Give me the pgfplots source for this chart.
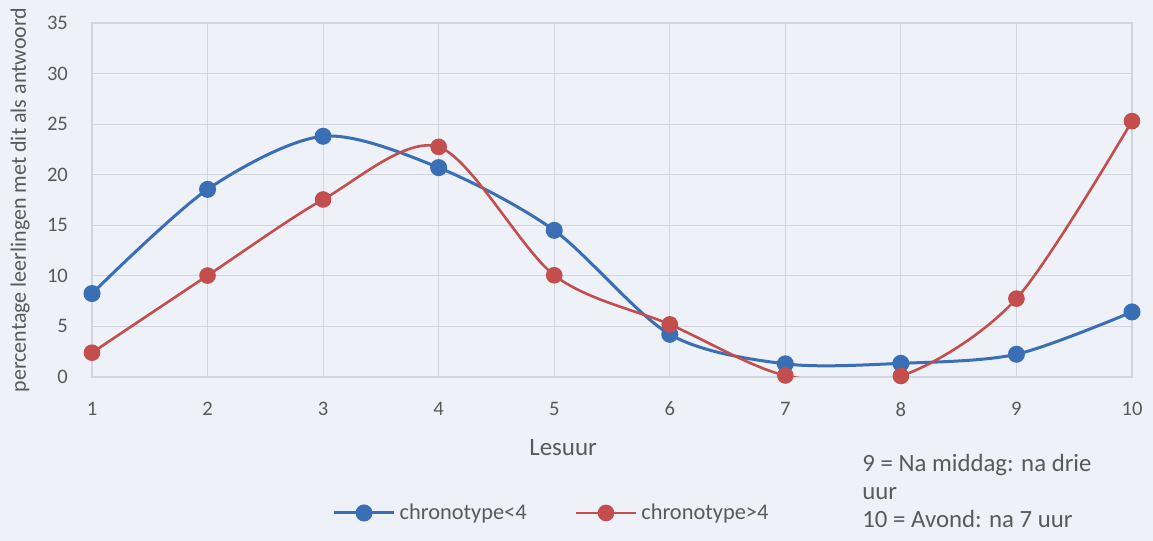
\documentclass[border=0pt]{standalone}
\usepackage{pgfplots}
\pgfplotsset{compat=1.18}
\usepackage{fontspec}
\setmainfont{Carlito}
\definecolor{bg}{HTML}{EEF1F7}
\definecolor{gridc}{HTML}{D2D5DD}
\definecolor{txt}{HTML}{5A5A5A}
\definecolor{sblue}{HTML}{3A6FB6}
\definecolor{sred}{HTML}{C24E4E}
\begin{document}
\begin{tikzpicture}
\path[use as bounding box, fill=bg] (0pt,0pt) rectangle (576.5pt,270.5pt);
\begin{axis}[
  at={(46pt,82pt)}, anchor=south west,
  scale only axis, width=520pt, height=177pt,
  xmin=1, xmax=10, ymin=0, ymax=35,
  xtick={1,...,10}, ytick={0,5,...,35},
  grid=major, grid style={gridc, line width=0.6pt},
  axis line style={gridc, line width=0.6pt},
  tick style={draw=none},
  ticklabel style={font=\fontsize{10.3}{12}\selectfont, text=txt},
  xticklabel style={yshift=-9pt},
  yticklabel style={xshift=-8.5pt},
  /pgf/number format/assume math mode=true,
  xlabel={Lesuur}, ylabel={percentage leerlingen met dit als antwoord},
  label style={font=\fontsize{11}{13}\selectfont, text=txt},
  xlabel style={at={(axis description cs:0.453,-0.198)}, anchor=center, font=\fontsize{12.5}{14}\selectfont},
  ylabel style={at={(axis description cs:-0.0692,0.5)}, anchor=center},
  legend style={at={(axis description cs:0.4428,-0.384)}, anchor=center,
    draw=none, fill=none, font=\fontsize{11.2}{13}\selectfont, text=txt,
    legend columns=2, /tikz/every even column/.append style={column sep=22pt}},
  legend cell align=left,
  legend image code/.code={\draw[mark repeat=2,mark phase=2] plot coordinates {(0pt,0pt) (15pt,0pt) (30pt,0pt)};},
]
\addplot[sblue, line width=1.5pt, smooth, tension=0.5, mark=*, mark size=3.5pt, mark options={solid, fill=sblue, draw=sblue}]
  coordinates {(1,8.25) (2,18.55) (3,23.8) (4,20.7) (5,14.5) (6,4.22) (7,1.3) (8,1.35) (9,2.25) (10,6.43)};
\addlegendentry{chronotype<4}
\addplot[sred, line width=1.3pt, smooth, tension=0.5, mark=*, mark size=3.5pt, mark options={solid, fill=sred, draw=sred}]
  coordinates {(1,2.4) (2,10.03) (3,17.55) (4,22.75) (5,10.06) (6,5.2) (7,0.15) (8,0.1) (9,7.75) (10,25.3)};
\addlegendentry{chronotype>4}
\end{axis}
\node[anchor=north west, align=left, text=txt, font=\fontsize{12.4}{14}\selectfont, inner sep=0pt] at (431pt,43.5pt)
  {9 = Na middag: na drie\\uur\\10 = Avond: na 7 uur};
\end{tikzpicture}
\end{document}
